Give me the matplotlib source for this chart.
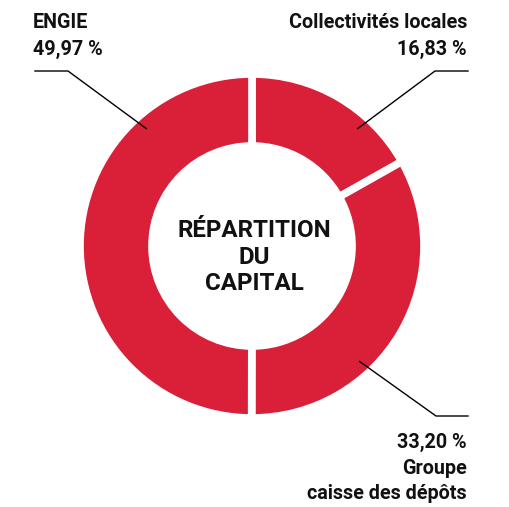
import numpy as np
import matplotlib.pyplot as plt

# données
labels = ["Collectivités locales", "Groupe\ncaisse des dépôts", "ENGIE"]
parts = [16.83, 33.20, 49.97]
parts_txt = ["16,83 %", "33,20 %", "49,97 %"]
titre = ["RÉPARTITION", "DU", "CAPITAL"]

rouge = "#da2039"
W, H = 509, 507

fig = plt.figure(figsize=(W / 100, H / 100), dpi=100)
ax = fig.add_axes([0, 0, 1, 1])

cx, cy = 252, H - 246
R = 172

ax.pie(parts, colors=[rouge] * 3, startangle=90, counterclock=False,
       radius=R, center=(cx, cy), frame=True,
       wedgeprops=dict(width=72, edgecolor="white", linewidth=5.5))
ax.set_xlim(0, W)
ax.set_ylim(0, H)
ax.axis("off")

plt.rcParams["font.family"] = ["Roboto", "DejaVu Sans"]
fs = 14.2
txt_kw = dict(fontsize=fs, fontweight="bold", va="baseline", color="#111111")

# texte central
for ligne, yb in zip(titre, [237, 264, 290]):
    ax.text(cx + 2, H - yb, ligne, ha="center", va="baseline",
            fontsize=17.4, fontweight="bold", color="#111111")


def pt(angle, r=158):
    a = np.deg2rad(angle)
    return cx + r * np.cos(a), cy + r * np.sin(a)


line_kw = dict(color="black", lw=1.0)

# ENGIE
x0, y0 = pt(132)
ax.plot([35, 68, x0], [H - 71, H - 71, y0], **line_kw)
ax.text(33, H - 28, labels[2], ha="left", **txt_kw)
ax.text(33, H - 55, parts_txt[2], ha="left", **txt_kw)

# Collectivités locales
x0, y0 = pt(48)
ax.plot([x0, 435, 468], [y0, H - 71, H - 71], **line_kw)
ax.text(467, H - 28, labels[0], ha="right", **txt_kw)
ax.text(467, H - 55, parts_txt[0], ha="right", **txt_kw)

# Groupe caisse des dépôts
x0, y0 = pt(-47)
ax.plot([x0, 436, 468], [y0, H - 416, H - 416], **line_kw)
ax.text(467, H - 448, parts_txt[1], ha="right", **txt_kw)
l1, l2 = labels[1].split("\n")
ax.text(467, H - 474, l1, ha="right", **txt_kw)
ax.text(467, H - 499, l2, ha="right", **txt_kw)

plt.savefig("out.png", dpi=100)
